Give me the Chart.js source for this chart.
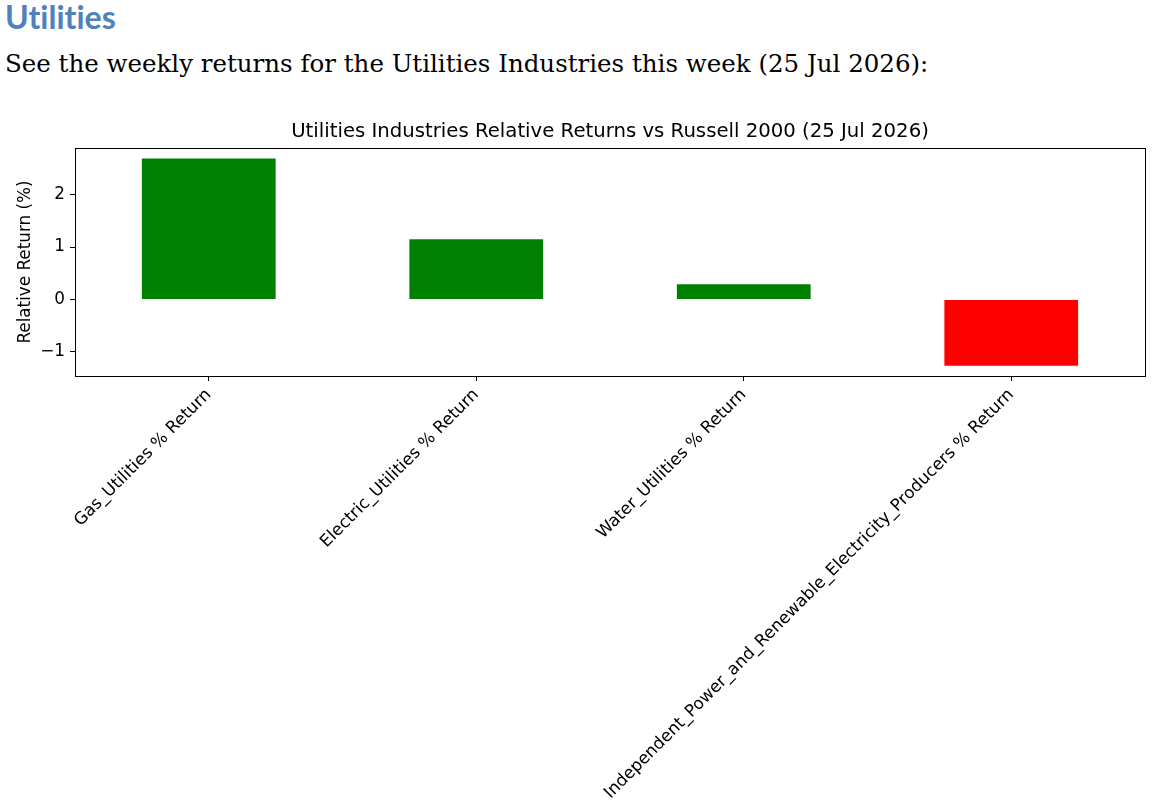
<!DOCTYPE html>
<html>
<head>
<meta charset="utf-8">
<script src="https://cdn.jsdelivr.net/npm/chart.js@4.4.0/dist/chart.umd.min.js"></script>
<style>
  html, body { margin: 0; padding: 0; background: #fff; width: 1160px; height: 804px; overflow: hidden; }
  #h1 { position: absolute; left: 5px; top: -2px; line-height: 38px; font-family: Lato, "Open Sans", sans-serif; font-weight: bold; font-size: 32px; color: #4F81BD; white-space: nowrap; font-variant-ligatures: none; }
  #h2 { position: absolute; left: 5px; top: 49px; line-height: 30px; font-family: "DejaVu Serif", serif; font-size: 24.5px; color: #000; white-space: nowrap; }
  #wrap { position: absolute; left: 0; top: 100px; width: 1160px; height: 704px; }
</style>
</head>
<body>
<div id="h1">Utilities</div>
<div id="h2">See the weekly returns for the Utilities Industries this week (25 Jul 2026):</div>
<div id="wrap"><canvas id="c"></canvas></div>
<script>
const categories = [
  "Gas_Utilities % Return",
  "Electric_Utilities % Return",
  "Water_Utilities % Return",
  "Independent_Power_and_Renewable_Electricity_Producers % Return"
];
const relativeReturns = [2.69, 1.15, 0.29, -1.26];
const yTickValues = [-1, 0, 1, 2];
const chartTitle = "Utilities Industries Relative Returns vs Russell 2000 (25 Jul 2026)";
const yAxisTitle = "Relative Return (%)";

const dMin = Math.min(0, ...relativeReturns);
const dMax = Math.max(0, ...relativeReturns);
const pad = (dMax - dMin) * 0.05;

const framePlugin = {
  id: 'frame',
  afterDraw(chart) {
    const a = chart.chartArea, ctx = chart.ctx;
    ctx.save();
    ctx.strokeStyle = '#000';
    ctx.lineWidth = 1;
    ctx.strokeRect(Math.round(a.left) + 0.5, Math.round(a.top) + 0.5, Math.round(a.right - a.left), Math.round(a.bottom - a.top));
    ctx.restore();
  }
};

new Chart(document.getElementById('c'), {
  type: 'bar',
  data: {
    labels: categories,
    datasets: [{
      data: relativeReturns,
      backgroundColor: ctx => (ctx.raw >= 0 ? '#008000' : '#ff0000'),
      borderWidth: 0,
      categoryPercentage: 1.0,
      barPercentage: 0.5
    }]
  },
  options: {
    responsive: true,
    maintainAspectRatio: false,
    animation: false,
    layout: { padding: { left: 0, right: 15, top: 20, bottom: 0 } },
    plugins: {
      legend: { display: false },
      tooltip: { enabled: false },
      title: {
        display: true,
        text: chartTitle,
        fullSize: false,
        color: '#000',
        font: { family: 'DejaVu Sans', size: 19.7, weight: 'normal' },
        padding: { top: 0, bottom: 4.4 }
      }
    },
    scales: {
      x: {
        offset: true,
        grid: { display: true, drawOnChartArea: false, drawTicks: true, tickLength: 5, color: '#000', offset: false },
        border: { display: true, color: '#000', width: 1 },
        ticks: {
          autoSkip: false,
          minRotation: 45,
          maxRotation: 45,
          padding: 4,
          color: '#000',
          font: { family: 'DejaVu Sans', size: 16.8 }
        },
        afterFit(scale) { scale.height = 428; }
      },
      y: {
        min: dMin - pad,
        max: dMax + pad,
        grid: { display: true, drawOnChartArea: false, drawTicks: true, tickLength: 5, color: '#000' },
        border: { display: true, color: '#000', width: 1 },
        afterBuildTicks(scale) { scale.ticks = yTickValues.map(v => ({ value: v })); },
        ticks: {
          padding: 5,
          color: '#000',
          font: { family: 'DejaVu Sans', size: 16.8 },
          callback: v => (v < 0 ? '\u2212' + Math.abs(v) : String(v))
        },
        title: {
          display: true,
          text: yAxisTitle,
          color: '#000',
          font: { family: 'DejaVu Sans', size: 16.8 },
          padding: { top: 16, bottom: 0 }
        },
        afterFit(scale) { scale.width = 75; }
      }
    }
  },
  plugins: [framePlugin]
});
</script>
</body>
</html>
